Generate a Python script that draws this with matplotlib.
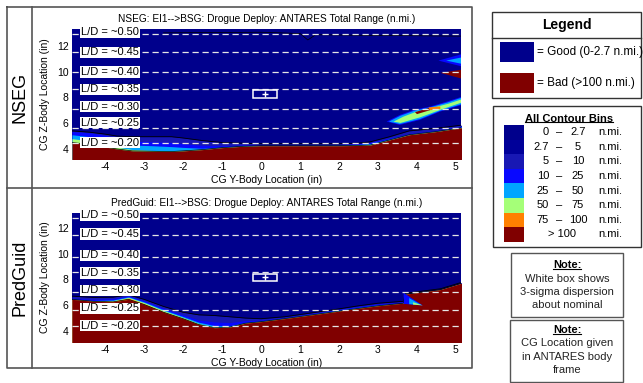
import matplotlib
matplotlib.use('Agg')
import matplotlib.pyplot as plt
from matplotlib.patches import Rectangle, Polygon
from matplotlib.lines import Line2D

plt.rcParams['font.family'] = ['Liberation Sans', 'DejaVu Sans']
plt.rcParams['axes.unicode_minus'] = False

W, H = 643, 383

# contour bin colours (0-2.7, 2.7-5, 5-10, 10-25, 25-50, 50-75, 75-100, >100)
BIN_LO = ['0', '2.7', '5', '10', '25', '50', '75']
BIN_HI = ['2.7', '5', '10', '25', '50', '75', '100']
BIN_COLORS = ['#00008c', '#000099', '#1818b4', '#0808ff', '#00a5ff',
              '#a5ff78', '#ff8000', '#800000']

LD_VALUES = [0.50, 0.45, 0.40, 0.35, 0.30, 0.25, 0.20]
X_TICKS = [-4, -3, -2, -1, 0, 1, 2, 3, 4, 5]
Y_TICKS = [4, 6, 8, 10, 12]

# ---- NSEG panel ----
TOP_TITLE = 'NSEG: EI1-->BSG: Drogue Deploy: ANTARES Total Range (n.mi.)'
TOP_LD_Z = [12.9, 11.49, 9.96, 8.62, 7.09, 5.64, 4.48]
TOP_LABEL_Z = [13.05, 11.49, 9.96, 8.62, 7.27, 6.05, 4.48]
TOP_Y = [-4.85, -4.4, -4.0, -3.7, -3.3, -2.8, -2.3, -2.0, -1.5, -1.0, -0.5,
         0.0, 1.0, 2.0, 2.5, 2.8, 3.3, 3.8, 4.5, 5.15]
TOP_MID = [5.40, 5.30, 5.15, 5.00, 4.95, 4.95, 4.95, 4.85, 4.65, 4.50, 4.45,
           4.40, 4.40, 4.40, 4.45, 4.55, 4.95, 5.40, 5.60, 5.85]
TOP_BLUE = [5.35, 5.25, 5.05, 4.80, 4.60, 4.55, 4.50, 4.40, 4.28, 4.25, 4.30,
            4.32, 4.32, 4.35, 4.40, 4.50, 4.85, 5.20, 5.45, 5.75]
TOP_CYAN = [5.10, 4.95, 4.70, 4.45, 4.30, 4.25, 4.18, 4.12, 4.05, 4.15, 4.25,
            4.28, 4.28, 4.30, 4.35, 4.42, 4.78, 5.15, 5.40, 5.70]
TOP_GREEN = [4.80, 4.62, 4.38, 4.15, 3.95, 3.88, 3.84, 3.88, 3.97, 4.12, 4.22,
             4.26, 4.26, 4.26, 4.30, 4.35, 4.72, 5.12, 5.37, 5.67]
TOP_RED = [4.50, 4.35, 4.15, 4.00, 3.85, 3.82, 3.80, 3.85, 3.95, 4.10, 4.20,
           4.25, 4.25, 4.25, 4.27, 4.30, 4.70, 5.10, 5.35, 5.65]
TOP_EDGE_Y = [-2.5, 0.0, 1.0, 1.2, 1.4, 3.0, 5.15]
TOP_EDGE_Z = [13.0, 13.05, 12.95, 12.45, 12.85, 12.8, 12.75]
STREAK_BLUE = [(3.22, 6.12), (3.56, 6.64), (3.91, 7.02), (4.33, 7.28), (4.76, 7.67),
               (5.15, 8.05), (5.15, 7.41), (4.59, 6.89), (4.08, 6.25), (3.56, 5.86)]
STREAK_CYAN = [(3.28, 6.12), (3.58, 6.58), (3.93, 6.96), (4.33, 7.22), (4.78, 7.6),
               (5.15, 7.98), (5.15, 7.48), (4.59, 6.95), (4.08, 6.32), (3.56, 5.93)]
STREAK_GREEN = [(3.4, 6.12), (3.65, 6.5), (3.98, 6.88), (4.35, 7.15), (4.8, 7.5),
                (5.15, 7.85), (5.15, 7.6), (4.6, 7.03), (4.08, 6.45), (3.58, 6.02)]
STREAK_RED = [(3.95, 6.85), (4.33, 7.2), (4.33, 7.0), (4.0, 6.7)]
STREAK_ORANGE = [(4.3, 7.22), (4.6, 7.3), (4.6, 7.1), (4.33, 7.0)]
CORNER_BLUE = [(4.55, 10.85), (5.15, 11.35), (5.15, 10.4)]
CORNER_CYAN = [(4.75, 10.85), (5.15, 11.1), (5.15, 10.6)]
CORNER_RED = [(4.6, 9.9), (5.15, 10.15), (5.15, 9.45)]
TOP_SIGMA_Y = [-0.2, 0.42]
TOP_SIGMA_Z = [7.92, 8.56]
TOP_NOMINAL = (0.1, 8.25)

# ---- PredGuid panel ----
BOT_TITLE = 'PredGuid: EI1-->BSG: Drogue Deploy: ANTARES Total Range (n.mi.)'
BOT_LD_Z = [12.73, 11.43, 9.75, 8.55, 7.04, 5.62, 4.40]
BOT_LABEL_Z = [12.95, 11.5, 9.85, 8.5, 7.15, 5.75, 4.41]
BOT_Y = [-4.85, -4.3, -3.8, -3.4, -3.0, -2.5, -2.0, -1.6, -1.2, -0.8, -0.4,
         0.0, 0.6, 1.2, 1.8, 2.5, 3.0, 3.65, 3.70, 4.6, 5.15]
BOT_MID = [6.70, 6.60, 6.62, 6.80, 6.45, 5.90, 5.45, 5.25, 5.20, 5.10, 5.00,
           4.95, 5.10, 5.36, 5.62, 5.95, 6.15, 6.30, 6.92, 7.27, 7.77]
BOT_BLUE = [6.55, 6.45, 6.50, 6.72, 6.35, 5.75, 5.25, 4.85, 4.70, 4.65, 4.80,
            4.85, 5.05, 5.32, 5.58, 5.90, 6.10, 6.25, 6.85, 7.20, 7.70]
BOT_CYAN = [6.48, 6.36, 6.40, 6.65, 6.25, 5.65, 5.12, 4.68, 4.42, 4.40, 4.66,
            4.78, 5.00, 5.26, 5.52, 5.82, 6.02, 6.18, 6.85, 7.20, 7.70]
BOT_GREEN = [6.45, 6.32, 6.35, 6.60, 6.20, 5.58, 5.05, 4.58, 4.30, 4.33, 4.62,
             4.74, 4.97, 5.22, 5.47, 5.77, 5.97, 6.15, 6.85, 7.20, 7.70]
BOT_ORANGE = [6.45, 6.30, 6.30, 6.55, 6.12, 5.50, 4.98, 4.52, 4.25, 4.30, 4.60,
              4.72, 4.95, 5.20, 5.45, 5.75, 5.95, 6.15, 6.85, 7.20, 7.70]
BOT_RED = [6.45, 6.30, 6.25, 6.45, 6.05, 5.45, 4.95, 4.50, 4.25, 4.30, 4.60,
           4.72, 4.95, 5.20, 5.45, 5.75, 5.95, 6.15, 6.85, 7.20, 7.70]
NOTCH_BLUE = [(3.66, 6.95), (3.66, 6.1), (4.15, 5.98)]
NOTCH_CYAN = [(3.8, 6.55), (3.8, 6.08), (4.12, 6.0)]
NOTCH_GREEN = [(3.9, 6.22), (4.15, 5.98), (3.9, 6.04)]
BOT_SIGMA_Y = [-0.2, 0.42]
BOT_SIGMA_Z = [7.88, 8.45]
BOT_NOMINAL = (0.1, 8.17)


def fx(x):
    return x / W


def fy(y):
    return 1 - y / H


def draw_panel(ax, title, ys, layers, ld_z, label_z, sigma_y, sigma_z, nominal, ylim):
    ax.set_facecolor(BIN_COLORS[0])
    ax.set_xlim(-4.85, 5.13)
    ax.set_ylim(*ylim)
    for top, col in layers:
        ax.fill_between(ys, 2.0, top, color=col, lw=0)
    # outer contour line of the transition band
    ax.plot(ys, layers[0][0], color='black', lw=0.6)
    ax.plot(ys, layers[-1][0], color='black', lw=0.5)

    for ld, z, lz in zip(LD_VALUES, ld_z, label_z):
        ax.axhline(z, color='#e6e6e6', lw=0.9, ls=(0, (5, 3)), zorder=3)
        ax.text(-4.62, lz, 'L/D = ~%.2f' % ld, fontsize=8, va='center', ha='left', zorder=4,
                bbox=dict(boxstyle='square,pad=0.06', fc='white', ec='none'))

    ax.add_patch(Rectangle((sigma_y[0], sigma_z[0]), sigma_y[1] - sigma_y[0],
                           sigma_z[1] - sigma_z[0], fill=False, ec='white', lw=1.1, zorder=4))
    ax.plot(*nominal, marker='+', color='white', ms=5, mew=1.0, zorder=4)

    ax.set_title(title, fontsize=7.3, pad=5)
    ax.set_xticks(X_TICKS)
    ax.set_yticks(Y_TICKS)
    ax.tick_params(length=0, labelsize=7.5, pad=2.5)
    ax.set_xlabel('CG Y-Body Location (in)', fontsize=7.5, labelpad=2)
    ax.set_ylabel('CG Z-Body Location (in)', fontsize=7.5, labelpad=5)
    for s in ax.spines.values():
        s.set_visible(False)


def poly(ax, pts, col):
    ax.add_patch(Polygon(pts, closed=True, fc=col, ec='none', zorder=2))


fig = plt.figure(figsize=(W / 100, H / 100), dpi=100)

ax1 = fig.add_axes([fx(72), fy(159), (461 - 72) / W, (159 - 29) / H])
draw_panel(ax1, TOP_TITLE, TOP_Y,
           [(TOP_MID, BIN_COLORS[2]), (TOP_BLUE, BIN_COLORS[3]), (TOP_CYAN, BIN_COLORS[4]),
            (TOP_GREEN, BIN_COLORS[5]), (TOP_RED, BIN_COLORS[7])],
           TOP_LD_Z, TOP_LABEL_Z, TOP_SIGMA_Y, TOP_SIGMA_Z, TOP_NOMINAL, (3.22, 13.3))
ax1.plot(TOP_EDGE_Y, TOP_EDGE_Z, color='black', lw=0.5, zorder=1.5)
for pts, col in [(STREAK_BLUE, BIN_COLORS[3]), (STREAK_CYAN, BIN_COLORS[4]),
                 (STREAK_GREEN, BIN_COLORS[5]), (STREAK_RED, BIN_COLORS[7]),
                 (STREAK_ORANGE, BIN_COLORS[6]), (CORNER_BLUE, BIN_COLORS[3]),
                 (CORNER_CYAN, BIN_COLORS[4]), (CORNER_RED, BIN_COLORS[7])]:
    poly(ax1, pts, col)

ax2 = fig.add_axes([fx(72), fy(341.7), (461 - 72) / W, (341.7 - 212.7) / H])
draw_panel(ax2, BOT_TITLE, BOT_Y,
           [(BOT_MID, BIN_COLORS[2]), (BOT_BLUE, BIN_COLORS[3]), (BOT_CYAN, BIN_COLORS[4]),
            (BOT_GREEN, BIN_COLORS[5]), (BOT_ORANGE, BIN_COLORS[6]), (BOT_RED, BIN_COLORS[7])],
           BOT_LD_Z, BOT_LABEL_Z, BOT_SIGMA_Y, BOT_SIGMA_Z, BOT_NOMINAL, (3.17, 13.16))
for pts, col in [(NOTCH_BLUE, BIN_COLORS[3]), (NOTCH_CYAN, BIN_COLORS[4]),
                 (NOTCH_GREEN, BIN_COLORS[5])]:
    poly(ax2, pts, col)

# table frame around the two panels
frame = dict(color='#555555', lw=1.2, transform=fig.transFigure)
for xs, ys in [([7, 472, 472, 7, 7], [7, 7, 368, 368, 7]),
               ([32, 32], [7, 368]), ([7, 472], [188, 188])]:
    fig.add_artist(Line2D([fx(v) for v in xs], [fy(v) for v in ys], **frame))
fig.text(fx(20), fy(97), 'NSEG', rotation=90, fontsize=13, ha='center', va='center')
fig.text(fx(20), fy(278), 'PredGuid', rotation=90, fontsize=13, ha='center', va='center')


def box(x0, y0, x1, y1, ec='#333333', lw=1.0):
    fig.add_artist(Rectangle((fx(x0), fy(y1)), (x1 - x0) / W, (y1 - y0) / H,
                             transform=fig.transFigure, fill=False, ec=ec, lw=lw))


underlined = []

# legend box
box(492, 12, 641, 98)
fig.add_artist(Line2D([fx(492), fx(641)], [fy(38), fy(38)], color='#333333', lw=1.0,
                      transform=fig.transFigure))
fig.text(fx(567), fy(25), 'Legend', fontsize=10, fontweight='bold', ha='center', va='center')
for y0, col, label in [(42.3, BIN_COLORS[0], '= Good (0-2.7 n.mi.)'),
                       (72.7, BIN_COLORS[7], '= Bad (>100 n.mi.)')]:
    fig.add_artist(Rectangle((fx(500), fy(y0 + 20)), 34 / W, 20 / H, fc=col, ec='none',
                             transform=fig.transFigure))
    fig.text(fx(537), fy(y0 + 10), label, fontsize=8.5, ha='left', va='center')

# contour bins box
box(493, 106, 641, 247)
underlined.append(fig.text(fx(569), fy(118.5), 'All Contour Bins', fontsize=8,
                           fontweight='bold', ha='center', va='center'))
step = (241.7 - 125) / len(BIN_COLORS)
for i, col in enumerate(BIN_COLORS):
    top = 125 + i * step
    fig.add_artist(Rectangle((fx(504), fy(top + step)), 19.5 / W, step / H, fc=col,
                             ec='none', transform=fig.transFigure))
    yc = top + step / 2
    if i < len(BIN_LO):
        fig.text(fx(549), fy(yc), BIN_LO[i], fontsize=8, ha='right', va='center')
        fig.text(fx(559), fy(yc), '\u2013', fontsize=8, ha='center', va='center')
        fig.text(fx(578), fy(yc), BIN_HI[i], fontsize=8, ha='center', va='center')
    else:
        fig.text(fx(562), fy(yc), '> 100', fontsize=8, ha='center', va='center')
    fig.text(fx(598), fy(yc), 'n.mi.', fontsize=8, ha='left', va='center')

# note boxes
box(511, 253, 623, 317, ec='#555555')
underlined.append(fig.text(fx(567), fy(265), 'Note:', fontsize=8, fontweight='bold',
                           ha='center', va='center'))
for i, line in enumerate(['White box shows', '3-sigma dispersion', 'about nominal']):
    fig.text(fx(567), fy(278.5 + i * 13.3), line, fontsize=8, ha='center', va='center',
             color='#222222')
box(510, 320, 623, 381.5, ec='#555555')
underlined.append(fig.text(fx(567), fy(330), 'Note:', fontsize=8, fontweight='bold',
                           ha='center', va='center'))
for i, line in enumerate(['CG Location given', 'in ANTARES body', 'frame']):
    fig.text(fx(567), fy(343.3 + i * 13.3), line, fontsize=8, ha='center', va='center',
             color='#222222')

fig.canvas.draw()
inv = fig.transFigure.inverted()
for t in underlined:
    bb = t.get_window_extent()
    (x0, y0), (x1, _) = inv.transform([(bb.x0, bb.y0), (bb.x1, bb.y1)])
    fig.add_artist(Line2D([x0, x1], [y0 + 0.003, y0 + 0.003], color='black', lw=0.8,
                          transform=fig.transFigure))

fig.savefig('out.png', dpi=100)
